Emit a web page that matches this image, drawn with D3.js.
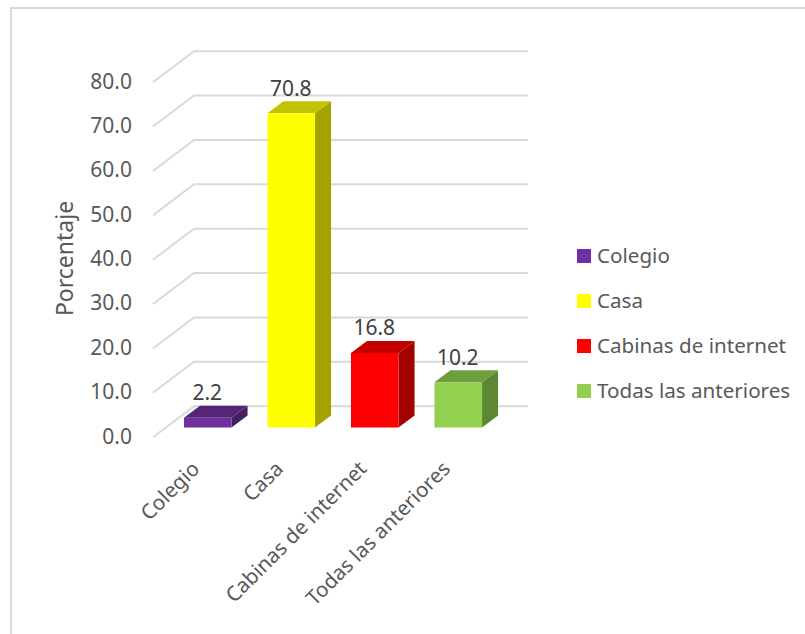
<!DOCTYPE html>
<html>
<head>
<meta charset="utf-8">
<script src="https://cdn.jsdelivr.net/npm/d3@7"></script>
<style>
  html, body { margin: 0; padding: 0; background: #fff; }
  svg { display: block; font-family: "Noto Sans", "Open Sans", sans-serif; }
</style>
</head>
<body>
<svg id="chart" width="805" height="634"></svg>
<script>
const categories = ["Colegio", "Casa", "Cabinas de internet", "Todas las anteriores"];
const values = [2.2, 70.8, 16.8, 10.2];
const frontColors = ["#7030a0", "#ffff00", "#ff0000", "#92d050"];
const topColors = ["#552579", "#c2c200", "#c20000", "#6f9e3d"];
const sideColors = ["#45205f", "#a3a300", "#a30000", "#5e8634"];
const yTicks = [0, 10, 20, 30, 40, 50, 60, 70, 80];

const svg = d3.select("#chart");

// chart frame, only top and left show in the picture
svg.append("path")
  .attr("d", "M805,8H11V634")
  .attr("fill", "none")
  .attr("stroke", "#d9d9d9")
  .attr("stroke-width", 2);

const x = d3.scaleBand().domain(categories).range([153, 487]);
const y = d3.scaleLinear().domain([0, 80]).range([437.2, 82.2]);

// fake 3d: wall depth and bar depth
const wallDx = 41, wallDy = 31;
const barDx = 16, barDy = 12;
const barOffX = 13, barOffY = 9.7;
const barW = 47.6;

const grid = svg.append("g");
grid.selectAll("path").data(yTicks).enter().append("path")
  .attr("d", d => `M${x.range()[0]},${y(d)}l${wallDx},${-wallDy}H${x.range()[1] + wallDx}`)
  .attr("fill", "none")
  .attr("stroke", "#d9d9d9")
  .attr("stroke-width", 2);

const bars = svg.append("g").selectAll("g").data(categories).enter().append("g");

function barBox(i) {
  const left = x(categories[i]) + (x.bandwidth() - barW) / 2 + barOffX;
  const bottom = y(0) - barOffY;
  const top = y(values[i]) - barOffY;
  return { left, right: left + barW, top, bottom };
}

bars.append("path")
  .attr("fill", (d, i) => sideColors[i])
  .attr("d", (d, i) => {
    const b = barBox(i);
    return `M${b.right},${b.top}l${barDx},${-barDy}V${b.bottom - barDy}l${-barDx},${barDy}Z`;
  });
bars.append("path")
  .attr("fill", (d, i) => topColors[i])
  .attr("d", (d, i) => {
    const b = barBox(i);
    return `M${b.left},${b.top}l${barDx},${-barDy}H${b.right + barDx}l${-barDx},${barDy}Z`;
  });
bars.append("rect")
  .attr("fill", (d, i) => frontColors[i])
  .attr("x", (d, i) => barBox(i).left)
  .attr("y", (d, i) => barBox(i).top)
  .attr("width", barW)
  .attr("height", (d, i) => barBox(i).bottom - barBox(i).top);

// data labels
bars.append("text")
  .attr("x", (d, i) => barBox(i).left + barW / 2 - 0.5)
  .attr("y", (d, i) => barBox(i).top - 17.7)
  .attr("text-anchor", "middle")
  .attr("font-size", 21)
  .attr("fill", "#404040")
  .text((d, i) => values[i].toFixed(1));

// y axis labels
svg.append("g").selectAll("text").data(yTicks).enter().append("text")
  .attr("x", 132)
  .attr("y", d => y(d) - 1)
  .attr("dy", "0.35em")
  .attr("text-anchor", "end")
  .attr("font-size", 21)
  .attr("fill", "#595959")
  .text(d => d.toFixed(1));

svg.append("text")
  .attr("transform", "translate(65,258.5) rotate(-90)")
  .attr("dy", "0.35em")
  .attr("text-anchor", "middle")
  .attr("font-size", 23)
  .attr("fill", "#595959")
  .text("Porcentaje");

// category labels
svg.append("g").selectAll("text").data(categories).enter().append("text")
  .attr("transform", d => `translate(${x(d) + x.bandwidth() / 2 + 1},465) rotate(-45)`)
  .attr("dy", "0.35em")
  .attr("text-anchor", "end")
  .attr("font-size", 20.6)
  .attr("fill", "#595959")
  .text(d => d);

// legend
const legendY = d3.scalePoint().domain(categories).range([256, 391]);
const legend = svg.append("g").selectAll("g").data(categories).enter().append("g")
  .attr("transform", d => `translate(577,${legendY(d)})`);
legend.append("rect")
  .attr("y", -7).attr("width", 14).attr("height", 14)
  .attr("fill", (d, i) => frontColors[i]);
legend.append("text")
  .attr("x", 20)
  .attr("dy", "0.35em")
  .attr("font-size", 20.6)
  .attr("fill", "#595959")
  .text(d => d);
</script>
</body>
</html>
